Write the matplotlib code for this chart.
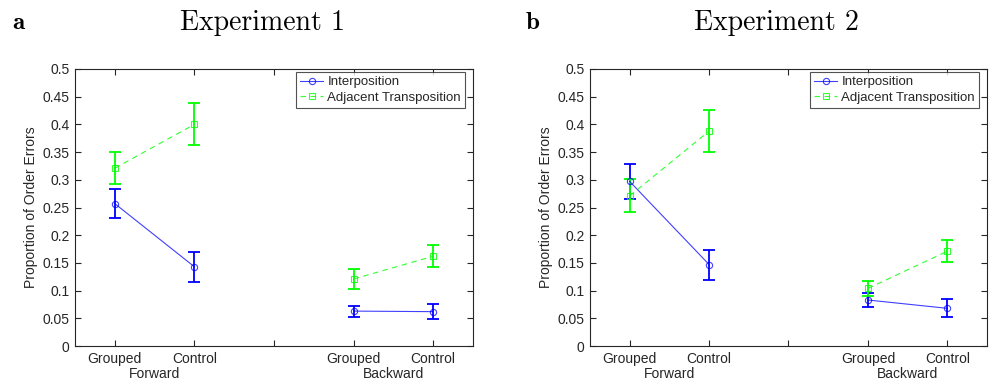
import matplotlib
matplotlib.use("Agg")
import matplotlib.pyplot as plt
import matplotlib.transforms as mtransforms

plt.rcParams['font.family'] = ['Liberation Sans', 'DejaVu Sans']

# condition positions: Forward Grouped/Control, gap, Backward Grouped/Control
positions = [1, 2, 4, 5]
tick_pos = [1, 2, 3, 4, 5]
tick_labels = ['Grouped', 'Control', '', 'Grouped', 'Control']
group_labels = ['Forward', 'Backward']
group_pos = [1.5, 4.5]

titles = ['Experiment 1', 'Experiment 2']
panel_letters = ['a', 'b']

# mean proportion of order errors and SEM per condition
exp1_interp = [0.257, 0.143, 0.063, 0.062]
exp1_interp_err = [0.026, 0.027, 0.010, 0.014]
exp1_adj = [0.321, 0.400, 0.121, 0.162]
exp1_adj_err = [0.029, 0.038, 0.018, 0.020]

exp2_interp = [0.297, 0.147, 0.083, 0.068]
exp2_interp_err = [0.031, 0.027, 0.013, 0.016]
exp2_adj = [0.271, 0.388, 0.104, 0.171]
exp2_adj_err = [0.030, 0.038, 0.013, 0.020]

BLUE = '#0000ff'
GREEN = '#00ff00'
AXC = '#262626'

fig = plt.figure(figsize=(9.9, 3.85), dpi=100)
ax_a = fig.add_axes([75 / 990, 39 / 385, 398 / 990, 277 / 385])
ax_b = fig.add_axes([590 / 990, 39 / 385, 397 / 990, 277 / 385])

panels = [
    (ax_a, exp1_interp, exp1_interp_err, exp1_adj, exp1_adj_err),
    (ax_b, exp2_interp, exp2_interp_err, exp2_adj, exp2_adj_err),
]

for i, (ax, ip, ip_err, adj, adj_err) in enumerate(panels):
    # forward and backward halves are drawn as separate segments
    for seg in (slice(0, 2), slice(2, 4)):
        xs = positions[seg]
        ax.errorbar(xs, ip[seg], yerr=ip_err[seg], fmt='none', ecolor=BLUE,
                    elinewidth=1.3, capsize=4, capthick=1.3, zorder=3)
        ax.errorbar(xs, adj[seg], yerr=adj_err[seg], fmt='none', ecolor=GREEN,
                    elinewidth=1.3, capsize=4, capthick=1.3, zorder=3)
        ax.plot(xs, ip[seg], '-', color=BLUE, lw=0.8, marker='o', ms=4.5,
                mfc='none', mec=BLUE, mew=0.8, alpha=0.75, zorder=4,
                label='Interposition' if seg.start == 0 else None)
        ax.plot(xs, adj[seg], '--', color=GREEN, lw=0.8, marker='s', ms=4,
                mfc='none', mec=GREEN, mew=0.8, dashes=(5, 4), alpha=0.8,
                zorder=4, label='Adjacent Transposition' if seg.start == 0 else None)

    ax.set_xlim(0.5, 5.5)
    ax.set_ylim(0, 0.5)
    ax.set_xticks(tick_pos)
    ax.set_xticklabels(tick_labels)
    ax.set_yticks([k * 0.05 for k in range(11)])
    ax.set_yticklabels(['%g' % round(k * 0.05, 2) for k in range(11)])
    ax.tick_params(direction='in', length=4, width=0.8, top=True, right=True,
                   labelsize=10, colors=AXC, labelcolor=AXC, pad=4)
    for sp in ax.spines.values():
        sp.set_color(AXC)
        sp.set_linewidth(0.8)
    ax.set_ylabel('Proportion of Order Errors', fontsize=10, color=AXC, labelpad=3)

    trans = mtransforms.blended_transform_factory(ax.transData, ax.transAxes)
    for lbl, gx in zip(group_labels, group_pos):
        ax.text(gx, -0.075, lbl, transform=trans, ha='center', va='top',
                fontsize=10, color=AXC)

    leg = ax.legend(loc='upper right', bbox_to_anchor=(1 - 8 / 398, 1 - 3 / 277),
                    borderaxespad=0, fontsize=9.5, frameon=True, fancybox=False,
                    handlelength=1.8, handletextpad=0.3, labelspacing=0.25,
                    borderpad=0.3)
    leg.get_frame().set_edgecolor(AXC)
    leg.get_frame().set_linewidth(0.8)
    for t in leg.get_texts():
        t.set_color(AXC)

    left = ax.get_position().x0
    center = (ax.get_position().x0 + ax.get_position().x1) / 2
    fig.text(center - 12 / 990, 1 - 23 / 385, titles[i], family='cmr10',
             fontsize=20, ha='center', va='center', color='black')
    fig.text(left - 57 / 990, 1 - 23 / 385, panel_letters[i], family='cmb10',
             fontsize=18, ha='center', va='center', color='black')

fig.savefig('out.png', dpi=100)
